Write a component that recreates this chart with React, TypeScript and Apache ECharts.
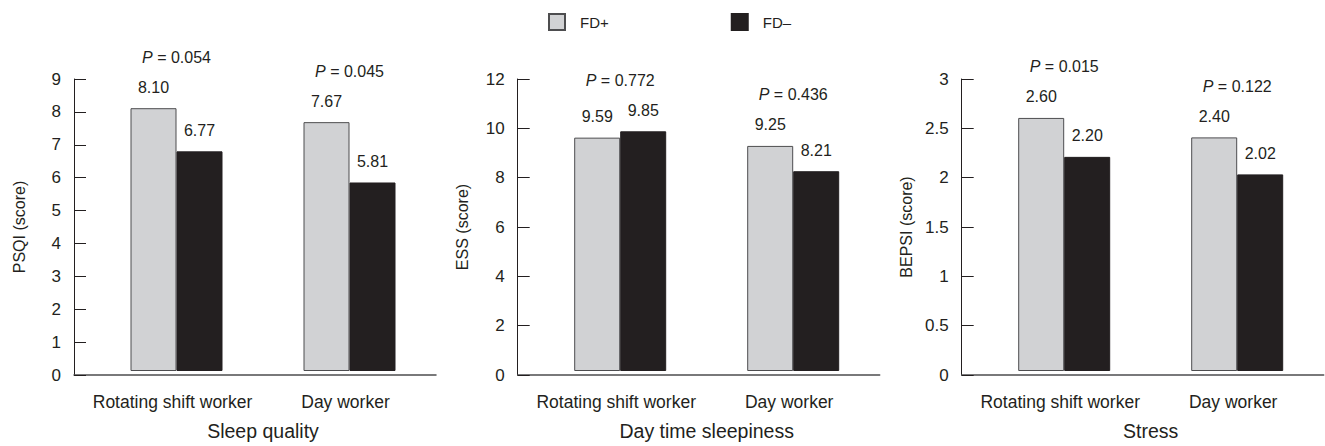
import React, { useEffect, useRef } from "react";
import * as echarts from "echarts";

const CATEGORIES = ["Rotating shift worker", "Day worker"];
const SERIES_NAMES = ["FD+", "FD\u2013"];

const PSQI_FD_PLUS = [8.1, 7.67];
const PSQI_FD_MINUS = [6.77, 5.81];
const PSQI_P = ["0.054", "0.045"];

const ESS_FD_PLUS = [9.59, 9.25];
const ESS_FD_MINUS = [9.85, 8.21];
const ESS_P = ["0.772", "0.436"];

const BEPSI_FD_PLUS = [2.6, 2.4];
const BEPSI_FD_MINUS = [2.2, 2.02];
const BEPSI_P = ["0.015", "0.122"];

const PANEL_TITLES = ["Sleep quality", "Day time sleepiness", "Stress"];
const Y_NAMES = ["PSQI (score)", "ESS (score)", "BEPSI (score)"];
const Y_MAX = [9, 12, 3];
const Y_INTERVAL = [1, 2, 0.5];

const PANELS = [
  { plus: PSQI_FD_PLUS, minus: PSQI_FD_MINUS, p: PSQI_P },
  { plus: ESS_FD_PLUS, minus: ESS_FD_MINUS, p: ESS_P },
  { plus: BEPSI_FD_PLUS, minus: BEPSI_FD_MINUS, p: BEPSI_P },
];

const FONT = '"Liberation Sans", Arial, sans-serif';
const TEXT = "#231f20";
const LIGHT = "#d1d2d4";
const DARK = "#231f20";

export default function App() {
  const ref = useRef<HTMLDivElement>(null);

  useEffect(() => {
    document.body.style.margin = "0";
    if (!ref.current) return;
    const chart = echarts.init(ref.current, null, { renderer: "svg" });

    const axisX = [74, 517.7, 961.7];
    const top = 79;
    const height = 296;
    const frameW = 362;
    const inset = 16;

    const grid: any[] = [];
    const xAxis: any[] = [];
    const yAxis: any[] = [];
    const series: any[] = [];

    PANELS.forEach((panel, k) => {
      const fi = k * 2;
      const bi = k * 2 + 1;
      grid.push({ left: axisX[k], top, width: frameW, height });
      grid.push({ left: axisX[k] + inset, top, width: frameW - inset, height });

      xAxis.push({
        gridIndex: fi,
        type: "category",
        data: [""],
        axisLine: { show: true, lineStyle: { color: "#4d4d4f", width: 1.5 } },
        axisTick: { show: false },
        axisLabel: { show: false },
      });
      xAxis.push({
        gridIndex: bi,
        type: "category",
        data: CATEGORIES,
        axisLine: { show: false },
        axisTick: { show: false },
        axisLabel: {
          color: TEXT,
          fontFamily: FONT,
          fontSize: 17.5,
          margin: 22,
          interval: 0,
          padding: [0, 8, 0, 0],
        },
        name: PANEL_TITLES[k],
        nameLocation: "middle",
        nameGap: 50,
        nameTextStyle: { color: TEXT, fontFamily: FONT, fontSize: 19.5 },
      });

      yAxis.push({
        gridIndex: fi,
        type: "value",
        min: 0,
        max: Y_MAX[k],
        interval: Y_INTERVAL[k],
        splitLine: { show: false },
        axisLine: { show: true, lineStyle: { color: TEXT, width: 1 } },
        axisTick: { show: true, inside: true, length: 12, lineStyle: { color: TEXT } },
        axisLabel: { color: TEXT, fontFamily: FONT, fontSize: 17, margin: 13 },
        name: Y_NAMES[k],
        nameLocation: "middle",
        nameGap: 47,
        nameTextStyle: { color: TEXT, fontFamily: FONT, fontSize: 16 },
      });
      yAxis.push({
        gridIndex: bi,
        type: "value",
        min: 0,
        max: Y_MAX[k],
        interval: Y_INTERVAL[k],
        show: false,
        splitLine: { show: false },
      });

      const valueLabel = {
        show: true,
        position: "top",
        distance: 13,
        color: TEXT,
        fontFamily: FONT,
        fontSize: 16,
        formatter: (p: any) => Number(p.value).toFixed(2),
      };

      series.push({
        name: SERIES_NAMES[0],
        type: "bar",
        xAxisIndex: bi,
        yAxisIndex: bi,
        data: panel.plus,
        barWidth: 46,
        barGap: "0%",
        itemStyle: { color: LIGHT, borderColor: "#4d4d4f", borderWidth: 1 },
        label: valueLabel,
      });
      series.push({
        name: SERIES_NAMES[1],
        type: "bar",
        xAxisIndex: bi,
        yAxisIndex: bi,
        data: panel.minus,
        barWidth: 46,
        barGap: "0%",
        itemStyle: { color: DARK, borderColor: DARK, borderWidth: 1 },
        label: valueLabel,
      });
      series.push({
        name: "P" + k,
        type: "scatter",
        xAxisIndex: bi,
        yAxisIndex: bi,
        symbolSize: 0,
        itemStyle: { opacity: 1 },
        data: panel.plus.map((v, i) => Math.max(v, panel.minus[i])),
        label: {
          show: true,
          position: "top",
          distance: 43,
          color: TEXT,
          opacity: 1,
          fontFamily: FONT,
          fontSize: 16,
          formatter: (p: any) => "{i|P} = " + panel.p[p.dataIndex],
          rich: { i: { fontStyle: "italic", fontFamily: FONT, fontSize: 16, color: TEXT } },
        },
        silent: true,
      });
    });

    chart.setOption({
      animation: false,
      backgroundColor: "#ffffff",
      legend: {
        data: SERIES_NAMES,
        left: 548,
        top: 13,
        padding: 0,
        itemWidth: 16,
        itemHeight: 16,
        itemGap: 122,
        icon: "rect",
        textStyle: { color: TEXT, fontFamily: FONT, fontSize: 15, padding: [0, 0, 0, 10] },
        selectedMode: false,
      },
      grid,
      xAxis,
      yAxis,
      series,
    });

    return () => chart.dispose();
  }, []);

  return <div ref={ref} style={{ width: 1325, height: 446 }} />;
}
